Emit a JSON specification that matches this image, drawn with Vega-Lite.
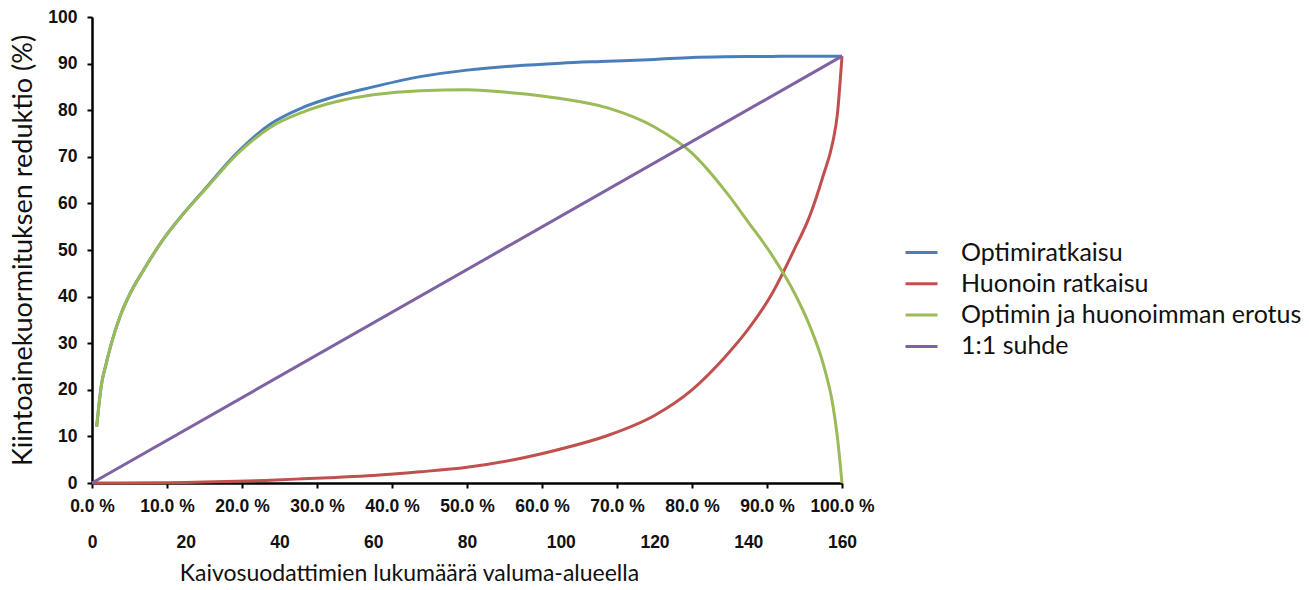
{
  "$schema": "https://vega.github.io/schema/vega-lite/v6.json",
  "width": 750,
  "height": 466,
  "padding": {"left": 9, "top": 8, "right": 5, "bottom": 0},
  "background": "white",
  "config": {
    "view": {"stroke": null},
    "axis": {"grid": false, "domainColor": "black", "domainWidth": 2.5, "tickColor": "black", "tickWidth": 2, "tickSize": 5,
             "labelFont": "Liberation Sans", "labelFontWeight": "bold", "labelFontSize": 17.5, "labelColor": "#111",
             "titleFont": "Lato", "titleFontWeight": "normal", "titleFontSize": 23, "titleColor": "#111"}
  },
  "data": {"values": [
    {"s": "Optimiratkaisu", "n": 1, "v": 12.1},
    {"s": "Optimiratkaisu", "n": 2, "v": 21},
    {"s": "Optimiratkaisu", "n": 3, "v": 25.5},
    {"s": "Optimiratkaisu", "n": 4, "v": 29.5},
    {"s": "Optimiratkaisu", "n": 6, "v": 35.8},
    {"s": "Optimiratkaisu", "n": 8, "v": 40.4},
    {"s": "Optimiratkaisu", "n": 11, "v": 45.7},
    {"s": "Optimiratkaisu", "n": 15, "v": 52},
    {"s": "Optimiratkaisu", "n": 19, "v": 57.2},
    {"s": "Optimiratkaisu", "n": 24, "v": 63},
    {"s": "Optimiratkaisu", "n": 31, "v": 70.9},
    {"s": "Optimiratkaisu", "n": 38, "v": 77},
    {"s": "Optimiratkaisu", "n": 45, "v": 80.6},
    {"s": "Optimiratkaisu", "n": 52, "v": 83},
    {"s": "Optimiratkaisu", "n": 60, "v": 85},
    {"s": "Optimiratkaisu", "n": 70, "v": 87.2},
    {"s": "Optimiratkaisu", "n": 80, "v": 88.6},
    {"s": "Optimiratkaisu", "n": 90, "v": 89.5},
    {"s": "Optimiratkaisu", "n": 100, "v": 90.1},
    {"s": "Optimiratkaisu", "n": 110, "v": 90.5},
    {"s": "Optimiratkaisu", "n": 120, "v": 90.9},
    {"s": "Optimiratkaisu", "n": 128, "v": 91.3},
    {"s": "Optimiratkaisu", "n": 135, "v": 91.45},
    {"s": "Optimiratkaisu", "n": 140, "v": 91.5},
    {"s": "Optimiratkaisu", "n": 145, "v": 91.55},
    {"s": "Optimiratkaisu", "n": 150, "v": 91.6},
    {"s": "Optimiratkaisu", "n": 155, "v": 91.6},
    {"s": "Optimiratkaisu", "n": 160, "v": 91.6},
    {"s": "Huonoin ratkaisu", "n": 0, "v": 0},
    {"s": "Huonoin ratkaisu", "n": 15, "v": 0.05},
    {"s": "Huonoin ratkaisu", "n": 24, "v": 0.2},
    {"s": "Huonoin ratkaisu", "n": 31, "v": 0.35},
    {"s": "Huonoin ratkaisu", "n": 38, "v": 0.6},
    {"s": "Huonoin ratkaisu", "n": 45, "v": 0.9},
    {"s": "Huonoin ratkaisu", "n": 52, "v": 1.2},
    {"s": "Huonoin ratkaisu", "n": 60, "v": 1.6},
    {"s": "Huonoin ratkaisu", "n": 70, "v": 2.4},
    {"s": "Huonoin ratkaisu", "n": 80, "v": 3.4},
    {"s": "Huonoin ratkaisu", "n": 90, "v": 5},
    {"s": "Huonoin ratkaisu", "n": 100, "v": 7.3},
    {"s": "Huonoin ratkaisu", "n": 110, "v": 10.2},
    {"s": "Huonoin ratkaisu", "n": 120, "v": 14.5},
    {"s": "Huonoin ratkaisu", "n": 128, "v": 20},
    {"s": "Huonoin ratkaisu", "n": 135, "v": 27},
    {"s": "Huonoin ratkaisu", "n": 140, "v": 33},
    {"s": "Huonoin ratkaisu", "n": 145, "v": 40.5},
    {"s": "Huonoin ratkaisu", "n": 150, "v": 50.5},
    {"s": "Huonoin ratkaisu", "n": 153, "v": 57},
    {"s": "Huonoin ratkaisu", "n": 156, "v": 66},
    {"s": "Huonoin ratkaisu", "n": 158, "v": 73},
    {"s": "Huonoin ratkaisu", "n": 159, "v": 79},
    {"s": "Huonoin ratkaisu", "n": 160, "v": 91.6},
    {"s": "Optimin ja huonoimman erotus", "n": 1, "v": 12.1},
    {"s": "Optimin ja huonoimman erotus", "n": 2, "v": 21},
    {"s": "Optimin ja huonoimman erotus", "n": 3, "v": 25.5},
    {"s": "Optimin ja huonoimman erotus", "n": 4, "v": 29.5},
    {"s": "Optimin ja huonoimman erotus", "n": 6, "v": 35.8},
    {"s": "Optimin ja huonoimman erotus", "n": 8, "v": 40.4},
    {"s": "Optimin ja huonoimman erotus", "n": 11, "v": 45.7},
    {"s": "Optimin ja huonoimman erotus", "n": 15, "v": 52},
    {"s": "Optimin ja huonoimman erotus", "n": 19, "v": 57.2},
    {"s": "Optimin ja huonoimman erotus", "n": 24, "v": 62.8},
    {"s": "Optimin ja huonoimman erotus", "n": 31, "v": 70.6},
    {"s": "Optimin ja huonoimman erotus", "n": 38, "v": 76.3},
    {"s": "Optimin ja huonoimman erotus", "n": 45, "v": 79.6},
    {"s": "Optimin ja huonoimman erotus", "n": 52, "v": 81.8},
    {"s": "Optimin ja huonoimman erotus", "n": 60, "v": 83.3},
    {"s": "Optimin ja huonoimman erotus", "n": 70, "v": 84.2},
    {"s": "Optimin ja huonoimman erotus", "n": 80, "v": 84.4},
    {"s": "Optimin ja huonoimman erotus", "n": 90, "v": 83.7},
    {"s": "Optimin ja huonoimman erotus", "n": 100, "v": 82.5},
    {"s": "Optimin ja huonoimman erotus", "n": 110, "v": 80.5},
    {"s": "Optimin ja huonoimman erotus", "n": 120, "v": 76.4},
    {"s": "Optimin ja huonoimman erotus", "n": 128, "v": 70.8},
    {"s": "Optimin ja huonoimman erotus", "n": 135, "v": 62.8},
    {"s": "Optimin ja huonoimman erotus", "n": 140, "v": 56},
    {"s": "Optimin ja huonoimman erotus", "n": 145, "v": 49},
    {"s": "Optimin ja huonoimman erotus", "n": 150, "v": 40.5},
    {"s": "Optimin ja huonoimman erotus", "n": 153, "v": 34},
    {"s": "Optimin ja huonoimman erotus", "n": 156, "v": 25.5},
    {"s": "Optimin ja huonoimman erotus", "n": 158, "v": 17},
    {"s": "Optimin ja huonoimman erotus", "n": 159, "v": 10},
    {"s": "Optimin ja huonoimman erotus", "n": 160, "v": 0},
    {"s": "1:1 suhde", "n": 0, "v": 0},
    {"s": "1:1 suhde", "n": 160, "v": 91.6}
  ]},
  "layer": [
    {
      "mark": {"type": "line", "strokeWidth": 3, "interpolate": "monotone"},
      "encoding": {
        "x": {"field": "n", "type": "quantitative", "scale": {"domain": [0, 160], "nice": false},
              "axis": {"orient": "bottom", "values": [0, 16, 32, 48, 64, 80, 96, 112, 128, 144, 160],
                       "labelExpr": "format(datum.value / 1.6, '.1f') + ' %'", "labelPadding": 9, "labelFlush": false,
                       "title": null}},
        "y": {"field": "v", "type": "quantitative", "scale": {"domain": [0, 100], "nice": false},
              "axis": {"values": [0, 10, 20, 30, 40, 50, 60, 70, 80, 90, 100], "labelPadding": 10,
                       "title": "Kiintoainekuormituksen reduktio (%)", "titleFontSize": 27, "titlePadding": 10}},
        "color": {"field": "s", "type": "nominal",
                  "scale": {"domain": ["Optimiratkaisu", "Huonoin ratkaisu", "Optimin ja huonoimman erotus", "1:1 suhde"],
                            "range": ["#4A7EBB", "#C0504D", "#9BBB59", "#7F62A1"]},
                  "legend": {"title": null, "orient": "none", "legendX": 812, "legendY": 218,
                             "symbolType": "stroke", "symbolSize": 1024, "symbolStrokeWidth": 3,
                             "labelFont": "Lato", "labelFontSize": 25, "labelColor": "#111", "rowPadding": 0.3, "labelOffset": 22, "labelLimit": 420}},
        "order": {"field": "n", "type": "quantitative"}
      }
    },
    {
      "mark": {"type": "point", "opacity": 0},
      "encoding": {
        "x": {"field": "n", "type": "quantitative", "scale": {"domain": [0, 160], "nice": false},
              "axis": {"orient": "bottom", "values": [0, 20, 40, 60, 80, 100, 120, 140, 160], "offset": 40,
                       "domain": false, "ticks": false, "tickSize": 0, "labelPadding": 10, "labelFlush": false,
                       "title": "Kaivosuodattimien lukumäärä valuma-alueella", "titlePadding": 12, "titleX": 317, "titleAnchor": "middle"}},
        "y": {"field": "v", "type": "quantitative"}
      }
    }
  ],
  "resolve": {"scale": {"x": "independent"}, "axis": {"x": "independent"}}
}
